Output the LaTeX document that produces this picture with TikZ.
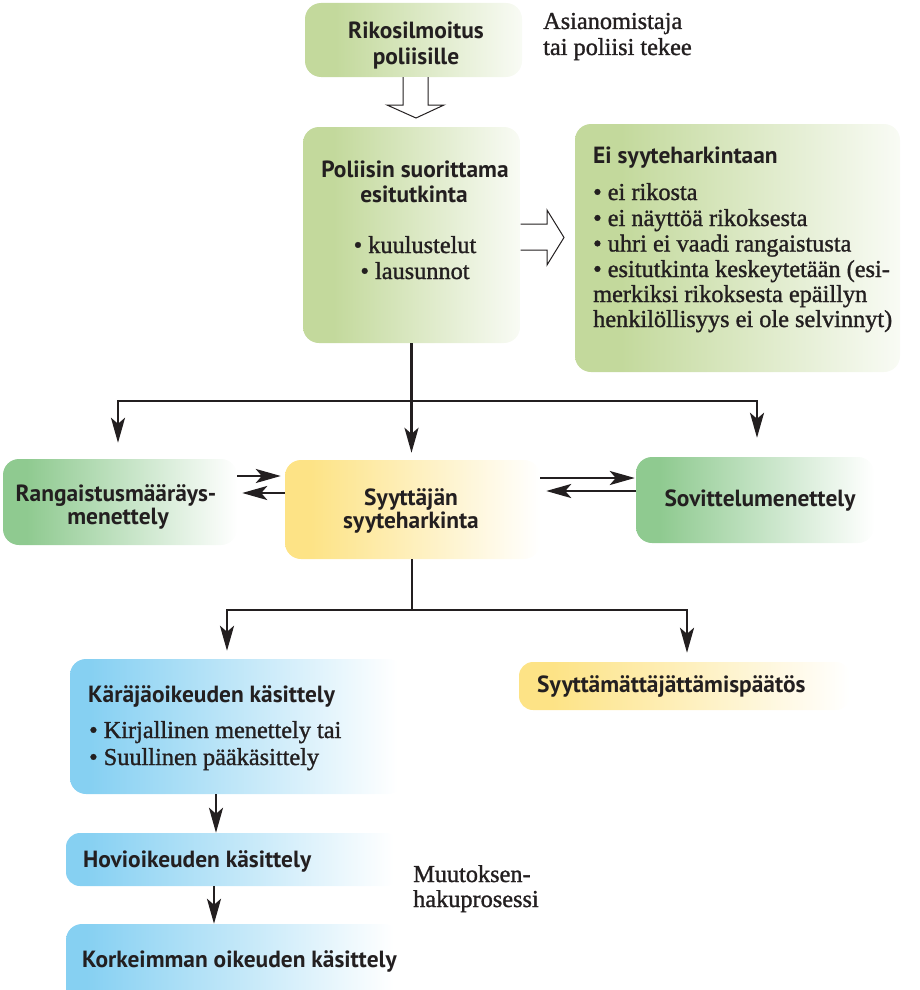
\documentclass[tikz,border=0pt]{standalone}
\usepackage{fontspec}
\setmainfont{Liberation Serif}[FakeBold=1.2]
\newfontfamily\hdfont{PT Sans}
\usetikzlibrary{arrows.meta,calc}
\definecolor{ink}{HTML}{231F20}
\definecolor{gLight}{HTML}{C3D99C}
\definecolor{gDark}{HTML}{8FCA90}
\definecolor{yel}{HTML}{FDE386}
\definecolor{blu}{HTML}{86D0F2}
\pgfdeclarehorizontalshading{shGL}{100bp}{color(0bp)=(gLight); color(25bp)=(gLight); color(32bp)=(gLight); color(80bp)=(white); color(100bp)=(white)}
\pgfdeclarehorizontalshading{shGD}{100bp}{color(0bp)=(gDark); color(25bp)=(gDark); color(30bp)=(gDark); color(75bp)=(white); color(100bp)=(white)}
\pgfdeclarehorizontalshading{shY}{100bp}{color(0bp)=(yel); color(25bp)=(yel); color(30bp)=(yel); color(75bp)=(white); color(100bp)=(white)}
\pgfdeclarehorizontalshading{shB}{100bp}{color(0bp)=(blu); color(25bp)=(blu); color(28bp)=(blu); color(74bp)=(white); color(100bp)=(white)}
\tikzset{
  bx/.style={rounded corners=16pt, inner sep=0pt, shade},
  hd/.style={font=\hdfont\bfseries\fontsize{23.4}{26}\selectfont, text=ink, inner sep=0pt},
  sr/.style={font=\fontsize{24.3}{26}\selectfont, text=ink, inner sep=0pt},
  ln/.style={line width=2.8pt, draw=ink},
  arr/.style={ln, -{Stealth[length=25pt,width=14pt,inset=6pt]}},
  hollow/.style={line width=1pt, draw=ink, fill=white, line join=miter}
}
\begin{document}
\begin{tikzpicture}[x=1pt,y=-1pt]
\useasboundingbox (0,0) rectangle (919,990);
\clip (0,0) rectangle (919,990);
% boxes
\node[bx, shading=shGL, minimum width=217pt, minimum height=74pt] (rik) at (413.5,40) {};
\node[bx, shading=shGL, minimum width=217pt, minimum height=216pt] (poli) at (411.5,235) {};
\node[bx, shading=shGL, minimum width=325pt, minimum height=248pt] (ei) at (737.5,248) {};
\node[bx, shading=shGD, minimum width=234pt, minimum height=86pt] (rang) at (120,502) {};
\node[bx, shading=shY, minimum width=255pt, minimum height=99pt] (syy) at (412.5,509.5) {};
\node[bx, shading=shGD, minimum width=238pt, minimum height=86pt] (sov) at (755,500) {};
\node[bx, shading=shB, minimum width=334pt, minimum height=135pt] (kar) at (237,726.5) {};
\node[bx, shading=shY, minimum width=331pt, minimum height=48pt, rounded corners=14pt] (syt) at (684.5,686) {};
\node[bx, shading=shB, minimum width=334pt, minimum height=53pt, rounded corners=14pt] (hov) at (233,859.5) {};
\node[bx, shading=shB, minimum width=334pt, minimum height=90pt] (kor) at (233,969) {};
% texts
\node[hd, anchor=base] (t1) at (416,39) {Rikosilmoitus};
\node[hd, anchor=base] (t2) at (416,65) {poliisille};
\node[sr, anchor=base west] (t3) at (543,29) {Asianomistaja};
\node[sr, anchor=base west] (t4) at (543,55) {tai poliisi tekee};
\node[hd, anchor=base] (t5) at (415,177) {Poliisin suorittama};
\node[hd, anchor=base] (t6) at (414,202) {esitutkinta};
\node[sr, anchor=base] (t7) at (415,253) {• kuulustelut};
\node[sr, anchor=base] (t8) at (415,279) {• lausunnot};
\node[hd, anchor=base west] (t9) at (593,163) {Ei syyteharkintaan};
\node[sr, anchor=base west] (t10) at (593,200) {• ei rikosta};
\node[sr, anchor=base west] (t11) at (593,226) {• ei näyttöä rikoksesta};
\node[sr, anchor=base west] (t12) at (593,251.5) {• uhri ei vaadi rangaistusta};
\node[sr, anchor=base west] (t13) at (593,277) {• esitutkinta keskeytetään (esi-};
\node[sr, anchor=base west] (t14) at (593,302) {merkiksi rikoksesta epäillyn};
\node[sr, anchor=base west] (t15) at (593,327) {henkilöllisyys ei ole selvinnyt)};
\node[hd, anchor=base] (t16) at (116,501) {Rangaistusmääräys-};
\node[hd, anchor=base] (t17) at (118,524) {menettely};
\node[hd, anchor=base] (t18) at (411,505) {Syyttäjän};
\node[hd, anchor=base] (t19) at (411,528) {syyteharkinta};
\node[hd, anchor=base] (t20) at (760,506) {Sovittelumenettely};
\node[hd, anchor=base west] (t21) at (88,702) {Käräjäoikeuden käsittely};
\node[sr, anchor=base west] (t22) at (89,738) {• Kirjallinen menettely tai};
\node[sr, anchor=base west] (t23) at (89,765) {• Suullinen pääkäsittely};
\node[hd, anchor=base west] (t24) at (537,692) {Syyttämättäjättämispäätös};
\node[hd, anchor=base west] (t25) at (83,867) {Hovioikeuden käsittely};
\node[hd, anchor=base west] (t26) at (82,967) {Korkeimman oikeuden käsittely};
\node[sr, anchor=base west] (t27) at (413,882) {Muutoksen-};
\node[sr, anchor=base west] (t28) at (413,907) {hakuprosessi};
% hollow arrows
\draw[hollow] (403,77) -- (403,105) -- (387,105) -- (416,118) -- (444,105) -- (428,105) -- (428,77);
\draw[hollow] (520.5,224) -- (547,224) -- (547,210) -- (564,237.5) -- (547,265) -- (547,250) -- (520.5,250);
% connectors
\coordinate (m1) at (411.5,401);
\draw[ln] (poli.south) -- (m1);
\draw[arr, shorten >=16pt] (m1) -| ([xshift=-2pt]rang.north);
\draw[arr, shorten >=7pt] (m1) -- (m1 |- syy.north);
\draw[arr, shorten >=19pt] (m1) -| ([xshift=2pt]sov.north);
\coordinate (yA) at (0,476);
\coordinate (yB) at (0,493);
\coordinate (yC) at (0,478);
\coordinate (yD) at (0,491);
\draw[arr, shorten >=4pt] (rang.east |- yA) -- (syy.west |- yA);
\draw[arr, shorten >=5pt] (syy.west |- yB) -- (rang.east |- yB);
\draw[arr, shorten >=1pt] (syy.east |- yC) -- (sov.west |- yC);
\draw[arr, shorten >=6pt] (sov.west |- yD) -- (syy.east |- yD);
\coordinate (m2) at (412,610);
\coordinate (ka) at (227,610);
\coordinate (sa) at (687,610);
\draw[ln] (syy.south -| m2) -- (m2);
\draw[arr, shorten >=8pt] (m2) -| (ka |- kar.north);
\draw[arr, shorten >=9pt] (m2) -| (sa |- syt.north);
\coordinate (kx) at (216,0);
\coordinate (hx) at (214,0);
\draw[arr] (kar.south -| kx) -- (hov.north -| kx);
\draw[arr] (hov.south -| hx) -- (kor.north -| hx);
\end{tikzpicture}
\end{document}
